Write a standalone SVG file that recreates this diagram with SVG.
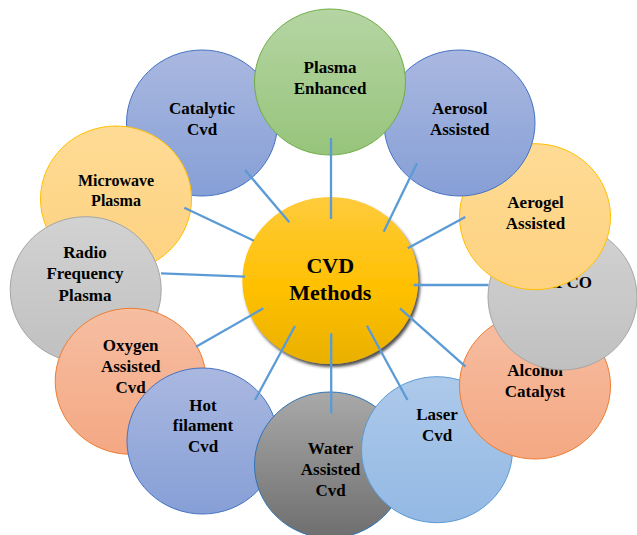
<svg xmlns="http://www.w3.org/2000/svg" width="637" height="535" viewBox="0 0 637 535">
<defs>
<linearGradient id="gBlue" x1="0" y1="0" x2="0" y2="1"><stop offset="0" stop-color="#aab8e0"/><stop offset="1" stop-color="#869fd6"/></linearGradient>
<linearGradient id="gGreen" x1="0" y1="0" x2="0" y2="1"><stop offset="0" stop-color="#b5d5a3"/><stop offset="1" stop-color="#97c47b"/></linearGradient>
<linearGradient id="gYellow" x1="0" y1="0" x2="0" y2="1"><stop offset="0" stop-color="#fedb95"/><stop offset="1" stop-color="#fed280"/></linearGradient>
<linearGradient id="gGray" x1="0" y1="0" x2="0" y2="1"><stop offset="0" stop-color="#d2d2d2"/><stop offset="1" stop-color="#c0c0c0"/></linearGradient>
<linearGradient id="gSalmon" x1="0" y1="0" x2="0" y2="1"><stop offset="0" stop-color="#f6bea2"/><stop offset="1" stop-color="#f4a883"/></linearGradient>
<linearGradient id="gDark" x1="0" y1="0" x2="0" y2="1"><stop offset="0" stop-color="#a9a9a9"/><stop offset="1" stop-color="#6e6e6e"/></linearGradient>
<linearGradient id="gLight" x1="0" y1="0" x2="0" y2="1"><stop offset="0" stop-color="#adc9ea"/><stop offset="1" stop-color="#93b9e4"/></linearGradient>
<linearGradient id="gCenter" x1="0" y1="0" x2="0" y2="1"><stop offset="0" stop-color="#ffcb3c"/><stop offset="0.55" stop-color="#ffc000"/><stop offset="1" stop-color="#e9b000"/></linearGradient>
<filter id="sh" x="-20%" y="-20%" width="140%" height="140%"><feDropShadow dx="2" dy="3" stdDeviation="1.5" flood-color="#333333" flood-opacity="0.85"/></filter>
</defs>
<style>
.t{font-family:"Liberation Serif","Times New Roman",serif;font-weight:bold;font-size:17px;fill:#000;text-anchor:middle}
.s{font-size:16px}
.c{font-size:22px}
.blue{fill:url(#gBlue);stroke:#4472c4;stroke-width:1}
.green{fill:url(#gGreen);stroke:#70ad47;stroke-width:1}
.yellow{fill:url(#gYellow);stroke:#ffc000;stroke-width:1}
.gray{fill:url(#gGray);stroke:#a5a5a5;stroke-width:1}
.salmon{fill:url(#gSalmon);stroke:#ed7d31;stroke-width:1}
.dark{fill:url(#gDark);stroke:#2e75b6;stroke-width:1}
.light{fill:url(#gLight);stroke:#5b9bd5;stroke-width:1}
.conn line{stroke:#5b9bd5;stroke-width:2.3;stroke-linecap:butt}
</style>
<g id="catalytic"><ellipse class="blue" cx="202" cy="123" rx="75.5" ry="73"/><text class="t" x="202" y="114">Catalytic</text><text class="t" x="202" y="135">Cvd</text></g>
<g id="microwave"><ellipse class="yellow" cx="116" cy="199" rx="75.5" ry="73"/><text class="t s" x="116" y="186">Microwave</text><text class="t s" x="116" y="206">Plasma</text></g>
<g id="radio"><ellipse class="gray" cx="85.7" cy="289.7" rx="75.5" ry="73"/><text class="t" x="85" y="258.3">Radio</text><text class="t" x="85" y="279.3">Frequency</text><text class="t" x="85" y="301">Plasma</text></g>
<g id="oxygen"><ellipse class="salmon" cx="130.7" cy="381.3" rx="75.5" ry="73"/><text class="t" x="130.7" y="350.7">Oxygen</text><text class="t" x="130.7" y="371.7">Assisted</text><text class="t" x="130.7" y="393.3">Cvd</text></g>
<g id="hotfilament"><ellipse class="blue" cx="202.5" cy="441" rx="75.5" ry="73"/><text class="t" x="203" y="410.7">Hot</text><text class="t" x="203" y="431">filament</text><text class="t" x="203" y="451.7">Cvd</text></g>
<g id="water"><ellipse class="dark" cx="330" cy="465" rx="75.5" ry="73"/><text class="t" x="330.5" y="454">Water</text><text class="t" x="330.5" y="475">Assisted</text><text class="t" x="330.5" y="496">Cvd</text></g>
<g id="laser"><ellipse class="light" cx="437" cy="449.7" rx="75.5" ry="73"/><text class="t" x="437" y="420">Laser</text><text class="t" x="437" y="440.7">Cvd</text></g>
<g id="alcohol"><ellipse class="salmon" cx="535" cy="386" rx="75.5" ry="73"/><text class="t" x="535" y="376">Alcohol</text><text class="t" x="535" y="397">Catalyst</text></g>
<g id="hipco"><ellipse class="gray" cx="562.5" cy="297" rx="74.5" ry="73"/><text class="t" x="565" y="288">HiPCO</text></g>
<g id="aerogel"><ellipse class="yellow" cx="535" cy="216.7" rx="75.5" ry="73"/><text class="t" x="535.5" y="207.7">Aerogel</text><text class="t" x="535.5" y="229">Assisted</text></g>
<g id="aerosol"><ellipse class="blue" cx="459.5" cy="123" rx="75.5" ry="73"/><text class="t" x="459.7" y="114">Aerosol</text><text class="t" x="459.7" y="135">Assisted</text></g>
<g id="plasma"><ellipse class="green" cx="330" cy="82" rx="75.5" ry="73"/><text class="t" x="330" y="73">Plasma</text><text class="t" x="330" y="94">Enhanced</text></g>
<g id="center"><ellipse cx="330.3" cy="280.5" rx="88" ry="83.5" fill="url(#gCenter)" filter="url(#sh)"/><text class="t c" x="330.3" y="273">CVD</text><text class="t c" x="330.3" y="300">Methods</text></g>
<g id="connectors" class="conn">
<line x1="331" y1="138" x2="331" y2="219"/>
<line x1="417" y1="163.3" x2="383.7" y2="231.7"/>
<line x1="465.3" y1="216.9" x2="407.7" y2="248.3"/>
<line x1="413.7" y1="285" x2="488.5" y2="285"/>
<line x1="400" y1="308.3" x2="465.5" y2="366.7"/>
<line x1="367" y1="325.7" x2="407.5" y2="400"/>
<line x1="331.2" y1="333.3" x2="331.2" y2="413.3"/>
<line x1="295" y1="326" x2="255" y2="400"/>
<line x1="263.3" y1="308.3" x2="196" y2="346.7"/>
<line x1="161" y1="273.3" x2="245" y2="276.7"/>
<line x1="184.3" y1="207.7" x2="254" y2="240.7"/>
<line x1="245" y1="170" x2="289.3" y2="222.3"/>
</g>
</svg>
